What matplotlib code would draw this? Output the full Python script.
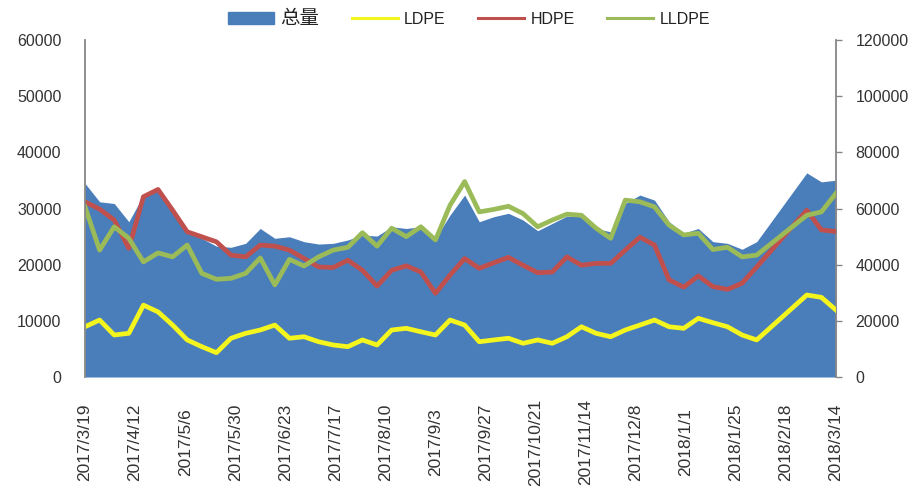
import datetime as dt
import matplotlib
matplotlib.use("Agg")
import matplotlib.pyplot as plt
from matplotlib.patches import Patch
from matplotlib.lines import Line2D
from matplotlib.ticker import FuncFormatter, FixedLocator
import matplotlib.dates as mdates

plt.rcParams['font.family'] = ['Liberation Sans', 'Noto Sans CJK SC', 'DejaVu Sans']

# weekly observations, then the last three after the spring festival gap
start = dt.date(2017, 3, 19)
dates = [start + dt.timedelta(days=7 * i) for i in range(47)]
dates += [dt.date(2018, 2, 28), dt.date(2018, 3, 7), dt.date(2018, 3, 14)]

total = [68960, 62400, 61800, 55300, 64800, 67200, 60060, 52300, 49400, 46600,
         46200, 47600, 52900, 49400, 49950, 48200, 47350, 47600, 48800, 50550,
         50200, 53500, 52900, 53500, 49400, 57700, 64800, 55300, 57100, 58300,
         55900, 52100, 54700, 57300, 57100, 52900, 51700, 61800, 64800, 63000,
         55300, 51200, 52900, 48200, 47600, 45500, 48200, 72700, 69500, 70100]
ldpe = [8950, 10150, 7480, 7780, 12800, 11600, 9250, 6600, 5400, 4330,
        6900, 7780, 8370, 9250, 6900, 7170, 6280, 5700, 5400, 6600,
        5700, 8370, 8670, 8060, 7480, 10150, 9250, 6280, 6600, 6900,
        6000, 6600, 6000, 7170, 8950, 7780, 7170, 8370, 9250, 10150,
        8950, 8670, 10450, 9670, 8950, 7480, 6600, 14600, 14190, 11930]
hdpe = [31200, 29900, 27950, 22900, 32100, 33400, 29700, 25860, 24970, 24080,
        21700, 21400, 23500, 23300, 22600, 21100, 19600, 19500, 20800, 19000,
        16200, 19000, 19800, 18700, 14900, 18150, 21100, 19350, 20350, 21300,
        19900, 18570, 18700, 21400, 19900, 20240, 20240, 22600, 24900, 23500,
        17300, 16000, 18000, 16100, 15600, 16700, 19600, 29700, 26200, 25900]
lldpe = [30300, 22600, 26750, 24700, 20500, 22100, 21400, 23500, 18460, 17400,
         17570, 18460, 21200, 16400, 20950, 19760, 21400, 22600, 23100, 25700,
         23300, 26500, 25000, 26750, 24400, 30600, 34800, 29400, 29850, 30400,
         29100, 26750, 27950, 29000, 28800, 26500, 24700, 31500, 31200, 30300,
         27050, 25300, 25600, 22700, 23100, 21400, 21700, 28800, 29400, 32700]

tick_dates = [start + dt.timedelta(days=24 * i) for i in range(16)]
left_ticks = [0, 10000, 20000, 30000, 40000, 50000, 60000]
right_ticks = [0, 20000, 40000, 60000, 80000, 100000, 120000]

c_area = '#4A7EBB'
c_ldpe = '#F5F51E'
c_hdpe = '#C0504D'
c_lldpe = '#9BBB59'
grey = '#868686'

fig = plt.figure(figsize=(9.23, 5.01), dpi=100)
ax = fig.add_axes([0.0921, 0.2475, 0.8136, 0.6725])
ax2 = ax.twinx()

ax2.fill_between(dates, total, 0, color=c_area, linewidth=0)
ax.plot(dates, ldpe, color=c_ldpe, lw=3.4, solid_joinstyle='round')
ax.plot(dates, hdpe, color=c_hdpe, lw=3.4, solid_joinstyle='round')
ax.plot(dates, lldpe, color=c_lldpe, lw=3.4, solid_joinstyle='round')

ax.set_zorder(ax2.get_zorder() + 1)
ax.patch.set_visible(False)

xmin = dt.date(2017, 3, 19)
xmax = dt.date(2018, 3, 14)
ax.set_xlim(xmin, xmax)
ax.set_ylim(0, 60000)
ax2.set_ylim(0, 120000)
ax.set_yticks(left_ticks)
ax2.set_yticks(right_ticks)

ax.xaxis.set_major_locator(FixedLocator(mdates.date2num(tick_dates)))
ax.xaxis.set_major_formatter(FuncFormatter(
    lambda v, p: (lambda d: f"{d.year}/{d.month}/{d.day}")(mdates.num2date(v))))
ax.tick_params(axis='x', length=0, pad=47, labelsize=12.5, colors='#333333')
for lab in ax.get_xticklabels():
    lab.set_rotation(90)
    lab.set_ha('center')
    lab.set_va('center')

ax.tick_params(axis='y', length=0, pad=17, labelsize=11.5, colors='#333333')
ax2.tick_params(axis='y', length=4, width=1, color=grey, pad=10,
                labelsize=11.5, labelcolor='#333333')

for a in (ax, ax2):
    a.spines['top'].set_visible(False)
    a.spines['bottom'].set_visible(False)
    a.spines['left'].set_color(grey)
    a.spines['right'].set_color(grey)
    a.spines['left'].set_linewidth(1.3)
    a.spines['right'].set_linewidth(1.3)
ax.spines['right'].set_visible(False)
ax2.spines['left'].set_visible(False)

handles = [Patch(color=c_area, label='总量'),
           Line2D([], [], color=c_ldpe, lw=2.2, label='LDPE'),
           Line2D([], [], color=c_hdpe, lw=2.2, label='HDPE'),
           Line2D([], [], color=c_lldpe, lw=2.2, label='LLDPE')]
leg = fig.legend(handles=handles, loc='center', bbox_to_anchor=(0.508, 0.962),
                 ncol=4, frameon=False, fontsize=11.5, handlelength=2.9,
                 handleheight=0.8, columnspacing=2.0, handletextpad=0.4)
leg.get_texts()[0].set_fontsize(14)
for t in leg.get_texts():
    t.set_color('#222222')

fig.savefig('out.png', dpi=100)
